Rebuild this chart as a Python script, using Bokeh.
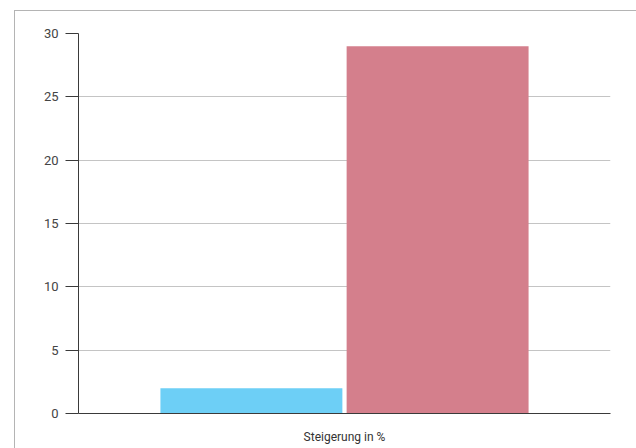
from bokeh.plotting import figure
from bokeh.models import FactorRange, Range1d, FixedTicker, ColumnDataSource
from bokeh.transform import dodge
from bokeh.embed import file_html
from bokeh.resources import INLINE

categories = ["Steigerung in %"]
series_names = ["A", "B"]
series_a = [2]
series_b = [29]
colors = ["#6dcff6", "#d47f8c"]
y_ticks = [0, 5, 10, 15, 20, 25, 30]

FONT = "Roboto"

src = ColumnDataSource(dict(cat=categories, a=series_a, b=series_b))

p = figure(
    x_range=FactorRange(factors=categories, range_padding=0),
    y_range=Range1d(0, 30),
    width=622, height=437,
    frame_width=532, frame_height=380,
    min_border_left=63, min_border_right=27, min_border_top=22, min_border_bottom=35,
    output_backend="svg", toolbar_location=None,
)
p.margin = (10, 0, 0, 14)
p.styles = {"border-left": "1px solid #b4b4b4", "border-top": "1px solid #b4b4b4"}
p.outline_line_color = None
p.background_fill_color = "white"
p.border_fill_color = "white"

p.vbar(x=dodge("cat", -0.175, range=p.x_range), top="a", width=0.342, source=src,
       fill_color=colors[0], line_color=None)
p.vbar(x=dodge("cat", 0.175, range=p.x_range), top="b", width=0.342, source=src,
       fill_color=colors[1], line_color=None)

# y axis
yax = p.yaxis[0]
yax.ticker = FixedTicker(ticks=y_ticks)
yax.axis_line_color = "#3a3a3a"
yax.major_tick_line_color = "#3a3a3a"
yax.major_tick_out = 13
yax.major_tick_in = 0
yax.minor_tick_line_color = None
yax.major_label_text_font = FONT
yax.major_label_text_font_size = "13px"
yax.major_label_text_color = "#444444"
yax.major_label_standoff = 7

p.ygrid.grid_line_color = "#c4c4c4"
p.xgrid.grid_line_color = None

xax = p.xaxis[0]
xax.axis_line_color = "#3a3a3a"
xax.major_tick_line_color = None
xax.major_tick_out = 0
xax.major_tick_in = 0
xax.major_label_text_font = FONT
xax.major_label_text_font_size = "12px"
xax.major_label_text_color = "#333333"
xax.major_label_standoff = 16

open("out.html", "w").write(file_html(p, INLINE))
